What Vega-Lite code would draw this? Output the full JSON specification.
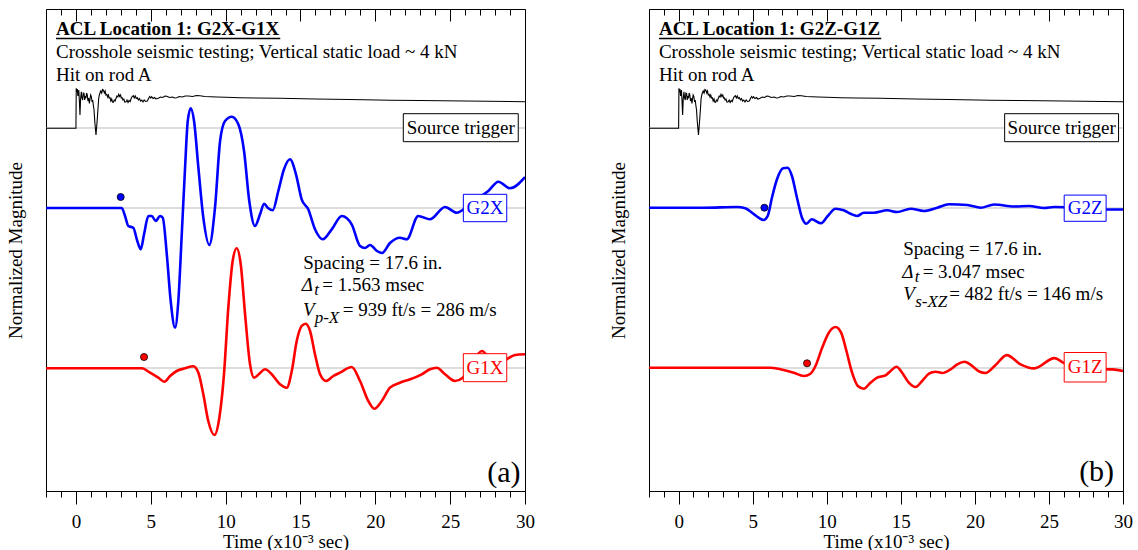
{
"$schema": "https://vega.github.io/schema/vega-lite/v6.json",
"padding": {"left": 5, "top": 8, "right": 5, "bottom": 0},
"config": {
  "view": {"stroke": "black", "strokeWidth": 1},
  "font": "Liberation Serif",
  "axis": {"labelFont": "Liberation Serif", "titleFont": "Liberation Serif", "labelFontSize": 19, "titleFontSize": 19, "titleFontWeight": "normal", "labelColor": "black", "titleColor": "black", "grid": false, "domainColor": "black", "tickColor": "black"},
  "text": {"font": "Liberation Serif", "fontSize": 19, "color": "black"}
},
"datasets": {
  "base": [{"v": 36.3}, {"v": 28.3}, {"v": 12.3}],
  "trig": [
    {"t":-2,"v":36.27},{"t":0,"v":36.27},{"t":0.02,"v":40.27},{"t":0.06,"v":39.9},{"t":0.09,"v":40.2},{"t":0.13,"v":39.5},{"t":0.16,"v":39.8},{"t":0.19,"v":40.1},{"t":0.23,"v":39.0},{"t":0.27,"v":37.6},{"t":0.31,"v":39.2},{"t":0.36,"v":39.93},{"t":0.4,"v":39.3},{"t":0.45,"v":39.1},{"t":0.49,"v":39.8},{"t":0.54,"v":39.77},{"t":0.58,"v":39.1},{"t":0.62,"v":39.5},{"t":0.67,"v":39.27},{"t":0.71,"v":39.8},{"t":0.76,"v":39.6},{"t":0.8,"v":39.0},{"t":0.85,"v":39.3},{"t":0.9,"v":38.77},{"t":0.94,"v":39.2},{"t":0.98,"v":39.6},{"t":1.03,"v":39.43},{"t":1.08,"v":38.9},{"t":1.12,"v":39.1},{"t":1.16,"v":38.6},{"t":1.21,"v":38.1},{"t":1.26,"v":36.93},{"t":1.34,"v":35.6},{"t":1.43,"v":37.27},{"t":1.52,"v":39.27},{"t":1.58,"v":39.7},{"t":1.66,"v":40.0},{"t":1.72,"v":39.8},{"t":1.78,"v":40.15},{"t":1.83,"v":40.1},{"t":1.9,"v":39.8},{"t":1.95,"v":40.0},{"t":2.0,"v":39.6},{"t":2.06,"v":39.67},{"t":2.12,"v":39.4},{"t":2.17,"v":39.6},{"t":2.22,"v":39.3},{"t":2.28,"v":39.33},{"t":2.33,"v":39.0},{"t":2.39,"v":39.2},{"t":2.44,"v":38.9},{"t":2.5,"v":38.87},{"t":2.56,"v":39.1},{"t":2.62,"v":39.0},{"t":2.68,"v":39.27},{"t":2.74,"v":39.5},{"t":2.8,"v":39.4},{"t":2.86,"v":39.67},{"t":2.92,"v":39.45},{"t":2.98,"v":39.6},{"t":3.03,"v":39.3},{"t":3.08,"v":39.33},{"t":3.14,"v":39.1},{"t":3.2,"v":39.2},{"t":3.26,"v":38.9},{"t":3.35,"v":38.93},{"t":3.41,"v":39.1},{"t":3.48,"v":38.85},{"t":3.55,"v":39.05},{"t":3.62,"v":38.93},{"t":3.7,"v":39.3},{"t":3.76,"v":39.45},{"t":3.83,"v":39.53},{"t":3.9,"v":39.3},{"t":3.96,"v":39.5},{"t":4.03,"v":39.25},{"t":4.1,"v":39.33},{"t":4.17,"v":39.1},{"t":4.24,"v":39.25},{"t":4.32,"v":39.0},{"t":4.4,"v":39.1},{"t":4.48,"v":38.9},{"t":4.56,"v":39.1},{"t":4.65,"v":38.95},{"t":4.77,"v":39.0},{"t":4.85,"v":39.25},{"t":4.93,"v":39.45},{"t":5.0,"v":39.3},{"t":5.06,"v":39.43},{"t":5.15,"v":39.25},{"t":5.25,"v":39.35},{"t":5.35,"v":39.2},{"t":5.5,"v":39.27},{"t":5.65,"v":39.4},{"t":5.8,"v":39.35},{"t":5.95,"v":39.5},{"t":6.07,"v":39.47},{"t":6.25,"v":39.35},{"t":6.45,"v":39.4},{"t":6.6,"v":39.3},{"t":6.73,"v":39.33},{"t":6.9,"v":39.45},{"t":7.1,"v":39.4},{"t":7.3,"v":39.5},{"t":7.51,"v":39.5},{"t":7.8,"v":39.45},{"t":8.05,"v":39.55},{"t":8.29,"v":39.53},{"t":8.6,"v":39.45},{"t":9.0,"v":39.42},{"t":9.41,"v":39.4},{"t":10.0,"v":39.38},{"t":10.96,"v":39.33},{"t":12.0,"v":39.3},{"t":13.63,"v":39.27},{"t":16.0,"v":39.2},{"t":18.31,"v":39.15},{"t":21.0,"v":39.08},{"t":22.99,"v":39.05},{"t":26.0,"v":39.0},{"t":30.0,"v":38.93}
  ],
  "a": [
    {"s":"G2X","t":-2,"v":28.3},{"s":"G2X","t":3.06,"v":28.3},{"s":"G2X","t":3.28,"v":27.5},{"s":"G2X","t":3.5,"v":26.5},{"s":"G2X","t":3.83,"v":26.33},{"s":"G2X","t":4.1,"v":25.0},{"s":"G2X","t":4.33,"v":24.17},{"s":"G2X","t":4.55,"v":25.67},{"s":"G2X","t":4.84,"v":27.5},{"s":"G2X","t":5.06,"v":27.5},{"s":"G2X","t":5.33,"v":27.0},{"s":"G2X","t":5.62,"v":27.5},{"s":"G2X","t":5.8,"v":27.33},{"s":"G2X","t":6.07,"v":23.67},{"s":"G2X","t":6.33,"v":19.0},{"s":"G2X","t":6.62,"v":16.33},{"s":"G2X","t":6.84,"v":19.0},{"s":"G2X","t":7.07,"v":25.67},{"s":"G2X","t":7.29,"v":32.33},{"s":"G2X","t":7.47,"v":37.0},{"s":"G2X","t":7.67,"v":38.27},{"s":"G2X","t":7.89,"v":37.0},{"s":"G2X","t":8.18,"v":32.33},{"s":"G2X","t":8.51,"v":27.33},{"s":"G2X","t":8.91,"v":24.6},{"s":"G2X","t":9.29,"v":28.33},{"s":"G2X","t":9.63,"v":35.0},{"s":"G2X","t":9.96,"v":37.0},{"s":"G2X","t":10.41,"v":37.43},{"s":"G2X","t":10.85,"v":36.67},{"s":"G2X","t":11.23,"v":34.0},{"s":"G2X","t":11.58,"v":29.0},{"s":"G2X","t":11.96,"v":26.5},{"s":"G2X","t":12.3,"v":27.67},{"s":"G2X","t":12.57,"v":28.73},{"s":"G2X","t":12.85,"v":28.27},{"s":"G2X","t":13.15,"v":28.07},{"s":"G2X","t":13.52,"v":30.0},{"s":"G2X","t":13.9,"v":32.17},{"s":"G2X","t":14.3,"v":33.17},{"s":"G2X","t":14.7,"v":31.67},{"s":"G2X","t":15.08,"v":29.17},{"s":"G2X","t":15.52,"v":28.17},{"s":"G2X","t":15.97,"v":26.17},{"s":"G2X","t":16.49,"v":25.17},{"s":"G2X","t":17.09,"v":26.17},{"s":"G2X","t":17.76,"v":27.5},{"s":"G2X","t":18.42,"v":26.67},{"s":"G2X","t":18.98,"v":24.5},{"s":"G2X","t":19.31,"v":24.3},{"s":"G2X","t":19.65,"v":24.6},{"s":"G2X","t":20.11,"v":24.0},{"s":"G2X","t":20.45,"v":23.8},{"s":"G2X","t":20.98,"v":24.8},{"s":"G2X","t":21.64,"v":25.33},{"s":"G2X","t":22.1,"v":25.17},{"s":"G2X","t":22.87,"v":27.5},{"s":"G2X","t":23.65,"v":27.17},{"s":"G2X","t":24.66,"v":28.4},{"s":"G2X","t":25.44,"v":27.83},{"s":"G2X","t":26.53,"v":29.0},{"s":"G2X","t":27.55,"v":30.0},{"s":"G2X","t":28.22,"v":30.93},{"s":"G2X","t":29.0,"v":30.27},{"s":"G2X","t":30.0,"v":31.4},
    {"s":"G1X","t":-2,"v":12.27},{"s":"G1X","t":4.4,"v":12.27},{"s":"G1X","t":4.95,"v":11.83},{"s":"G1X","t":5.5,"v":11.33},{"s":"G1X","t":5.91,"v":10.93},{"s":"G1X","t":6.29,"v":11.5},{"s":"G1X","t":6.73,"v":12.0},{"s":"G1X","t":7.29,"v":12.27},{"s":"G1X","t":7.84,"v":12.47},{"s":"G1X","t":8.18,"v":11.83},{"s":"G1X","t":8.51,"v":9.67},{"s":"G1X","t":8.84,"v":7.0},{"s":"G1X","t":9.25,"v":5.6},{"s":"G1X","t":9.58,"v":7.33},{"s":"G1X","t":9.89,"v":11.67},{"s":"G1X","t":10.18,"v":18.33},{"s":"G1X","t":10.47,"v":23.0},{"s":"G1X","t":10.74,"v":24.27},{"s":"G1X","t":11.01,"v":22.67},{"s":"G1X","t":11.3,"v":17.67},{"s":"G1X","t":11.63,"v":12.67},{"s":"G1X","t":11.9,"v":11.33},{"s":"G1X","t":12.25,"v":11.73},{"s":"G1X","t":12.63,"v":12.17},{"s":"G1X","t":13.08,"v":11.67},{"s":"G1X","t":13.63,"v":10.67},{"s":"G1X","t":14.08,"v":10.33},{"s":"G1X","t":14.42,"v":12.0},{"s":"G1X","t":14.75,"v":15.0},{"s":"G1X","t":15.08,"v":16.5},{"s":"G1X","t":15.35,"v":16.73},{"s":"G1X","t":15.64,"v":16.0},{"s":"G1X","t":15.97,"v":13.67},{"s":"G1X","t":16.31,"v":11.67},{"s":"G1X","t":16.71,"v":11.0},{"s":"G1X","t":17.19,"v":11.5},{"s":"G1X","t":17.64,"v":11.83},{"s":"G1X","t":18.42,"v":12.4},{"s":"G1X","t":18.98,"v":11.0},{"s":"G1X","t":19.53,"v":9.0},{"s":"G1X","t":19.93,"v":8.23},{"s":"G1X","t":20.43,"v":9.0},{"s":"G1X","t":20.98,"v":10.33},{"s":"G1X","t":21.64,"v":10.83},{"s":"G1X","t":22.32,"v":11.17},{"s":"G1X","t":23.1,"v":11.67},{"s":"G1X","t":23.65,"v":12.17},{"s":"G1X","t":24.1,"v":12.33},{"s":"G1X","t":24.66,"v":11.67},{"s":"G1X","t":25.32,"v":11.0},{"s":"G1X","t":25.84,"v":11.33},{"s":"G1X","t":26.33,"v":12.5},{"s":"G1X","t":27.13,"v":14.0},{"s":"G1X","t":28.0,"v":12.5},{"s":"G1X","t":28.78,"v":13.17},{"s":"G1X","t":29.33,"v":13.6},{"s":"G1X","t":30.0,"v":13.67}
  ],
  "b": [
    {"s":"G2Z","t":-2,"v":28.33},{"s":"G2Z","t":1.68,"v":28.33},{"s":"G2Z","t":3.94,"v":28.4},{"s":"G2Z","t":4.5,"v":28.27},{"s":"G2Z","t":4.95,"v":27.83},{"s":"G2Z","t":5.4,"v":27.33},{"s":"G2Z","t":5.74,"v":27.1},{"s":"G2Z","t":6.01,"v":27.5},{"s":"G2Z","t":6.3,"v":29.33},{"s":"G2Z","t":6.64,"v":31.17},{"s":"G2Z","t":7.05,"v":32.27},{"s":"G2Z","t":7.36,"v":32.33},{"s":"G2Z","t":7.65,"v":31.5},{"s":"G2Z","t":7.99,"v":29.33},{"s":"G2Z","t":8.33,"v":27.33},{"s":"G2Z","t":8.63,"v":26.73},{"s":"G2Z","t":8.98,"v":27.17},{"s":"G2Z","t":9.62,"v":26.77},{"s":"G2Z","t":10.07,"v":27.5},{"s":"G2Z","t":10.59,"v":28.23},{"s":"G2Z","t":11.15,"v":28.07},{"s":"G2Z","t":11.6,"v":27.73},{"s":"G2Z","t":12.05,"v":27.5},{"s":"G2Z","t":12.5,"v":27.83},{"s":"G2Z","t":13.18,"v":27.83},{"s":"G2Z","t":14.08,"v":28.07},{"s":"G2Z","t":14.75,"v":27.9},{"s":"G2Z","t":15.66,"v":28.23},{"s":"G2Z","t":16.56,"v":28.0},{"s":"G2Z","t":17.46,"v":28.33},{"s":"G2Z","t":18.25,"v":28.67},{"s":"G2Z","t":19.49,"v":28.6},{"s":"G2Z","t":20.39,"v":28.33},{"s":"G2Z","t":21.3,"v":28.65},{"s":"G2Z","t":22.65,"v":28.45},{"s":"G2Z","t":23.66,"v":28.5},{"s":"G2Z","t":24.67,"v":28.3},{"s":"G2Z","t":25.35,"v":28.4},{"s":"G2Z","t":29.07,"v":28.15},{"s":"G2Z","t":30.0,"v":28.15},
    {"s":"G1Z","t":-2,"v":12.33},{"s":"G1Z","t":6.19,"v":12.33},{"s":"G1Z","t":6.87,"v":12.17},{"s":"G1Z","t":7.77,"v":11.83},{"s":"G1Z","t":8.45,"v":11.5},{"s":"G1Z","t":8.9,"v":11.73},{"s":"G1Z","t":9.24,"v":12.5},{"s":"G1Z","t":9.69,"v":14.33},{"s":"G1Z","t":10.14,"v":15.83},{"s":"G1Z","t":10.59,"v":16.4},{"s":"G1Z","t":10.97,"v":15.83},{"s":"G1Z","t":11.33,"v":14.0},{"s":"G1Z","t":11.71,"v":11.83},{"s":"G1Z","t":12.1,"v":10.5},{"s":"G1Z","t":12.5,"v":10.23},{"s":"G1Z","t":12.95,"v":10.83},{"s":"G1Z","t":13.4,"v":11.33},{"s":"G1Z","t":13.97,"v":11.57},{"s":"G1Z","t":14.31,"v":12.0},{"s":"G1Z","t":14.71,"v":12.43},{"s":"G1Z","t":15.09,"v":11.83},{"s":"G1Z","t":15.54,"v":10.83},{"s":"G1Z","t":16.0,"v":10.4},{"s":"G1Z","t":16.44,"v":11.0},{"s":"G1Z","t":16.9,"v":11.73},{"s":"G1Z","t":17.35,"v":11.93},{"s":"G1Z","t":17.8,"v":11.8},{"s":"G1Z","t":18.36,"v":12.17},{"s":"G1Z","t":18.81,"v":12.67},{"s":"G1Z","t":19.31,"v":12.93},{"s":"G1Z","t":19.82,"v":12.5},{"s":"G1Z","t":20.3,"v":11.95},{"s":"G1Z","t":20.7,"v":11.8},{"s":"G1Z","t":21.4,"v":12.6},{"s":"G1Z","t":22.15,"v":13.59},{"s":"G1Z","t":23.08,"v":12.67},{"s":"G1Z","t":24.0,"v":12.26},{"s":"G1Z","t":25.38,"v":13.29},{"s":"G1Z","t":25.96,"v":12.84},{"s":"G1Z","t":27.38,"v":12.2},{"s":"G1Z","t":29.3,"v":12.16},{"s":"G1Z","t":30.0,"v":12.0}
  ],
  "dots_a": [{"s":"G2X","t":2.99,"v":29.4},{"s":"G1X","t":4.55,"v":13.4}],
  "dots_b": [{"s":"G2Z","t":5.79,"v":28.33},{"s":"G1Z","t":8.67,"v":12.77}]
},
"spacing": 73,
"hconcat": [
  {
    "width": 479, "height": 482,
    "resolve": {"axis": {"x": "independent", "y": "independent"}},
    "layer": [
      {"data": {"name": "base"}, "mark": {"type": "rule", "color": "#bbbbbb", "strokeWidth": 1},
       "encoding": {"y": {"field": "v", "type": "quantitative", "scale": {"domain": [0, 48.2], "nice": false, "zero": false}, "axis": {"title": "Normalized Magnitude", "orient": "left", "labels": false, "ticks": false, "domain": false, "grid": false, "titlePadding": 21}}}},
      {"data": {"name": "trig"}, "mark": {"type": "line", "color": "black", "strokeWidth": 1.1, "clip": true},
       "encoding": {"x": {"field": "t", "type": "quantitative", "scale": {"domain": [-2, 30], "nice": false, "zero": false},
          "axis": {"orient": "bottom", "values": [-2,-1,0,1,2,3,4,5,6,7,8,9,10,11,12,13,14,15,16,17,18,19,20,21,22,23,24,25,26,27,28,29,30], "labelExpr": "datum.value % 5 === 0 ? datum.label : ''", "tickSize": {"condition": {"test": "datum.value % 5 === 0", "value": 13}, "value": 6}, "labelPadding": 8, "title": "Time (x10⁻³ sec)", "titlePadding": 1, "labelOverlap": false, "labelFlush": false, "labelBound": false}},
         "y": {"field": "v", "type": "quantitative", "axis": null}}},
      {"data": {"name": "a"}, "mark": {"type": "line", "strokeWidth": 2.6, "clip": true, "interpolate": "monotone"},
       "encoding": {"x": {"field": "t", "type": "quantitative",
          "axis": {"orient": "top", "values": [-2,-1,0,1,2,3,4,5,6,7,8,9,10,11,12,13,14,15,16,17,18,19,20,21,22,23,24,25,26,27,28,29,30], "labels": false, "domain": false, "title": null, "tickSize": {"condition": {"test": "datum.value % 5 === 0", "value": -12}, "value": -6}}},
         "y": {"field": "v", "type": "quantitative", "axis": null},
         "color": {"field": "s", "type": "nominal", "scale": {"domain": ["G2X","G1X","G2Z","G1Z"], "range": ["#0000ff","#ff0000","#0000ff","#ff0000"]}, "legend": null}}},
      {"data": {"name": "dots_a"}, "mark": {"type": "point", "filled": true, "size": 50, "stroke": "black", "strokeWidth": 0.8, "opacity": 1},
       "encoding": {"x": {"field": "t", "type": "quantitative", "axis": null}, "y": {"field": "v", "type": "quantitative", "axis": null}, "color": {"field": "s", "type": "nominal", "legend": null}}},
      {"data": {"values": [{}]}, "mark": {"type": "rect", "fill": "white", "stroke": "black", "strokeWidth": 1},
       "encoding": {"x": {"datum": 21.87, "type": "quantitative", "axis": null}, "x2": {"datum": 29.55}, "y": {"datum": 37.73, "type": "quantitative", "axis": null}, "y2": {"datum": 34.93}}},
      {"data": {"values": [{}]}, "mark": {"type": "rect", "fill": "white", "stroke": "#0000ff", "strokeWidth": 1},
       "encoding": {"x": {"datum": 25.88, "type": "quantitative", "axis": null}, "x2": {"datum": 28.78}, "y": {"datum": 29.67, "type": "quantitative", "axis": null}, "y2": {"datum": 26.93}}},
      {"data": {"values": [{}]}, "mark": {"type": "rect", "fill": "white", "stroke": "#ff0000", "strokeWidth": 1},
       "encoding": {"x": {"datum": 25.88, "type": "quantitative", "axis": null}, "x2": {"datum": 28.78}, "y": {"datum": 13.73, "type": "quantitative", "axis": null}, "y2": {"datum": 10.93}}},
      {"data": {"values": [{}]}, "mark": {"type": "text", "align": "center", "baseline": "middle", "text": "Source trigger"},
       "encoding": {"x": {"datum": 25.71, "type": "quantitative", "axis": null}, "y": {"datum": 36.33, "type": "quantitative", "axis": null}}},
      {"data": {"values": [{}]}, "mark": {"type": "text", "align": "center", "baseline": "middle", "text": "G2X", "color": "#0000ff"},
       "encoding": {"x": {"datum": 27.33, "type": "quantitative", "axis": null}, "y": {"datum": 28.3, "type": "quantitative", "axis": null}}},
      {"data": {"values": [{}]}, "mark": {"type": "text", "align": "center", "baseline": "middle", "text": "G1X", "color": "#ff0000"},
       "encoding": {"x": {"datum": 27.33, "type": "quantitative", "axis": null}, "y": {"datum": 12.33, "type": "quantitative", "axis": null}}},
      {"data": {"values": [{}]}, "mark": {"type": "text", "align": "left", "baseline": "alphabetic", "fontWeight": "bold", "text": "ACL Location 1: G2X-G1X"},
       "encoding": {"x": {"datum": -1.33, "type": "quantitative", "axis": null}, "y": {"datum": 45.6, "type": "quantitative", "axis": null}}},
      {"data": {"values": [{}]}, "mark": {"type": "rule", "color": "black", "strokeWidth": 1.3},
       "encoding": {"x": {"datum": -1.33, "type": "quantitative", "axis": null}, "x2": {"datum": 13.65}, "y": {"datum": 45.25, "type": "quantitative", "axis": null}}},
      {"data": {"values": [{}]}, "mark": {"type": "text", "align": "left", "baseline": "alphabetic", "lineHeight": 23, "text": ["Crosshole seismic testing; Vertical static load ~ 4 kN", "Hit on rod A"]},
       "encoding": {"x": {"datum": -1.33, "type": "quantitative", "axis": null}, "y": {"datum": 43.3, "type": "quantitative", "axis": null}}},
      {"data": {"values": [{}]}, "mark": {"type": "text", "align": "left", "baseline": "alphabetic", "dx": 1.6, "text": "Spacing = 17.6 in."},
       "encoding": {"x": {"datum": 15.08, "type": "quantitative", "axis": null}, "y": {"datum": 22.2, "type": "quantitative", "axis": null}}},
      {"data": {"values": [{}]}, "mark": {"type": "text", "align": "left", "baseline": "alphabetic", "fontStyle": "italic", "text": "Δ"},
       "encoding": {"x": {"datum": 15.08, "type": "quantitative", "axis": null}, "y": {"datum": 20.0, "type": "quantitative", "axis": null}}},
      {"data": {"values": [{}]}, "mark": {"type": "text", "align": "left", "baseline": "alphabetic", "fontStyle": "italic", "fontSize": 17, "dx": 12.5, "dy": 4, "text": "t"},
       "encoding": {"x": {"datum": 15.08, "type": "quantitative", "axis": null}, "y": {"datum": 20.0, "type": "quantitative", "axis": null}}},
      {"data": {"values": [{}]}, "mark": {"type": "text", "align": "left", "baseline": "alphabetic", "dx": 20.5, "text": "= 1.563 msec"},
       "encoding": {"x": {"datum": 15.08, "type": "quantitative", "axis": null}, "y": {"datum": 20.0, "type": "quantitative", "axis": null}}},
      {"data": {"values": [{}]}, "mark": {"type": "text", "align": "left", "baseline": "alphabetic", "fontStyle": "italic", "dx": 1.3, "text": "V"},
       "encoding": {"x": {"datum": 15.08, "type": "quantitative", "axis": null}, "y": {"datum": 17.5, "type": "quantitative", "axis": null}}},
      {"data": {"values": [{}]}, "mark": {"type": "text", "align": "left", "baseline": "alphabetic", "fontStyle": "italic", "fontSize": 17, "dx": 13, "dy": 7, "text": "p-X"},
       "encoding": {"x": {"datum": 15.08, "type": "quantitative", "axis": null}, "y": {"datum": 17.5, "type": "quantitative", "axis": null}}},
      {"data": {"values": [{}]}, "mark": {"type": "text", "align": "left", "baseline": "alphabetic", "dx": 41, "text": "= 939 ft/s = 286 m/s"},
       "encoding": {"x": {"datum": 15.08, "type": "quantitative", "axis": null}, "y": {"datum": 17.5, "type": "quantitative", "axis": null}}},
      {"data": {"values": [{}]}, "mark": {"type": "text", "align": "right", "baseline": "alphabetic", "fontSize": 30, "text": "(a)"},
       "encoding": {"x": {"datum": 29.7, "type": "quantitative", "axis": null}, "y": {"datum": 0.9, "type": "quantitative", "axis": null}}}
    ]
  },
  {
    "width": 474, "height": 482,
    "resolve": {"axis": {"x": "independent", "y": "independent"}},
    "layer": [
      {"data": {"name": "base"}, "mark": {"type": "rule", "color": "#bbbbbb", "strokeWidth": 1},
       "encoding": {"y": {"field": "v", "type": "quantitative", "scale": {"domain": [0, 48.2], "nice": false, "zero": false}, "axis": {"title": "Normalized Magnitude", "orient": "left", "labels": false, "ticks": false, "domain": false, "grid": false, "titlePadding": 21}}}},
      {"data": {"name": "trig"}, "mark": {"type": "line", "color": "black", "strokeWidth": 1.1, "clip": true},
       "encoding": {"x": {"field": "t", "type": "quantitative", "scale": {"domain": [-2, 30], "nice": false, "zero": false},
          "axis": {"orient": "bottom", "values": [-2,-1,0,1,2,3,4,5,6,7,8,9,10,11,12,13,14,15,16,17,18,19,20,21,22,23,24,25,26,27,28,29,30], "labelExpr": "datum.value % 5 === 0 ? datum.label : ''", "tickSize": {"condition": {"test": "datum.value % 5 === 0", "value": 13}, "value": 6}, "labelPadding": 8, "title": "Time (x10⁻³ sec)", "titlePadding": 1, "labelOverlap": false, "labelFlush": false, "labelBound": false}},
         "y": {"field": "v", "type": "quantitative", "axis": null}}},
      {"data": {"name": "b"}, "mark": {"type": "line", "strokeWidth": 2.6, "clip": true, "interpolate": "monotone"},
       "encoding": {"x": {"field": "t", "type": "quantitative",
          "axis": {"orient": "top", "values": [-2,-1,0,1,2,3,4,5,6,7,8,9,10,11,12,13,14,15,16,17,18,19,20,21,22,23,24,25,26,27,28,29,30], "labels": false, "domain": false, "title": null, "tickSize": {"condition": {"test": "datum.value % 5 === 0", "value": -12}, "value": -6}}},
         "y": {"field": "v", "type": "quantitative", "axis": null},
         "color": {"field": "s", "type": "nominal", "scale": {"domain": ["G2X","G1X","G2Z","G1Z"], "range": ["#0000ff","#ff0000","#0000ff","#ff0000"]}, "legend": null}}},
      {"data": {"name": "dots_b"}, "mark": {"type": "point", "filled": true, "size": 50, "stroke": "black", "strokeWidth": 0.8, "opacity": 1},
       "encoding": {"x": {"field": "t", "type": "quantitative", "axis": null}, "y": {"field": "v", "type": "quantitative", "axis": null}, "color": {"field": "s", "type": "nominal", "legend": null}}},
      {"data": {"values": [{}]}, "mark": {"type": "rect", "fill": "white", "stroke": "black", "strokeWidth": 1},
       "encoding": {"x": {"datum": 22.01, "type": "quantitative", "axis": null}, "x2": {"datum": 29.7}, "y": {"datum": 37.73, "type": "quantitative", "axis": null}, "y2": {"datum": 34.93}}},
      {"data": {"values": [{}]}, "mark": {"type": "rect", "fill": "white", "stroke": "#0000ff", "strokeWidth": 1},
       "encoding": {"x": {"datum": 26.03, "type": "quantitative", "axis": null}, "x2": {"datum": 28.86}, "y": {"datum": 29.59, "type": "quantitative", "axis": null}, "y2": {"datum": 26.97}}},
      {"data": {"values": [{}]}, "mark": {"type": "rect", "fill": "white", "stroke": "#ff0000", "strokeWidth": 1},
       "encoding": {"x": {"datum": 26.03, "type": "quantitative", "axis": null}, "x2": {"datum": 28.86}, "y": {"datum": 13.85, "type": "quantitative", "axis": null}, "y2": {"datum": 10.9}}},
      {"data": {"values": [{}]}, "mark": {"type": "text", "align": "center", "baseline": "middle", "text": "Source trigger"},
       "encoding": {"x": {"datum": 25.86, "type": "quantitative", "axis": null}, "y": {"datum": 36.33, "type": "quantitative", "axis": null}}},
      {"data": {"values": [{}]}, "mark": {"type": "text", "align": "center", "baseline": "middle", "text": "G2Z", "color": "#0000ff"},
       "encoding": {"x": {"datum": 27.45, "type": "quantitative", "axis": null}, "y": {"datum": 28.28, "type": "quantitative", "axis": null}}},
      {"data": {"values": [{}]}, "mark": {"type": "text", "align": "center", "baseline": "middle", "text": "G1Z", "color": "#ff0000"},
       "encoding": {"x": {"datum": 27.45, "type": "quantitative", "axis": null}, "y": {"datum": 12.38, "type": "quantitative", "axis": null}}},
      {"data": {"values": [{}]}, "mark": {"type": "text", "align": "left", "baseline": "alphabetic", "fontWeight": "bold", "text": "ACL Location 1: G2Z-G1Z"},
       "encoding": {"x": {"datum": -1.33, "type": "quantitative", "axis": null}, "y": {"datum": 45.6, "type": "quantitative", "axis": null}}},
      {"data": {"values": [{}]}, "mark": {"type": "rule", "color": "black", "strokeWidth": 1.3},
       "encoding": {"x": {"datum": -1.33, "type": "quantitative", "axis": null}, "x2": {"datum": 13.68}, "y": {"datum": 45.25, "type": "quantitative", "axis": null}}},
      {"data": {"values": [{}]}, "mark": {"type": "text", "align": "left", "baseline": "alphabetic", "lineHeight": 23, "text": ["Crosshole seismic testing; Vertical static load ~ 4 kN", "Hit on rod A"]},
       "encoding": {"x": {"datum": -1.33, "type": "quantitative", "axis": null}, "y": {"datum": 43.3, "type": "quantitative", "axis": null}}},
      {"data": {"values": [{}]}, "mark": {"type": "text", "align": "left", "baseline": "alphabetic", "dx": 1, "text": "Spacing = 17.6 in."},
       "encoding": {"x": {"datum": 15.09, "type": "quantitative", "axis": null}, "y": {"datum": 23.6, "type": "quantitative", "axis": null}}},
      {"data": {"values": [{}]}, "mark": {"type": "text", "align": "left", "baseline": "alphabetic", "fontStyle": "italic", "text": "Δ"},
       "encoding": {"x": {"datum": 15.09, "type": "quantitative", "axis": null}, "y": {"datum": 21.35, "type": "quantitative", "axis": null}}},
      {"data": {"values": [{}]}, "mark": {"type": "text", "align": "left", "baseline": "alphabetic", "fontStyle": "italic", "fontSize": 17, "dx": 12.5, "dy": 4, "text": "t"},
       "encoding": {"x": {"datum": 15.09, "type": "quantitative", "axis": null}, "y": {"datum": 21.35, "type": "quantitative", "axis": null}}},
      {"data": {"values": [{}]}, "mark": {"type": "text", "align": "left", "baseline": "alphabetic", "dx": 20.5, "text": "= 3.047 msec"},
       "encoding": {"x": {"datum": 15.09, "type": "quantitative", "axis": null}, "y": {"datum": 21.35, "type": "quantitative", "axis": null}}},
      {"data": {"values": [{}]}, "mark": {"type": "text", "align": "left", "baseline": "alphabetic", "fontStyle": "italic", "dx": 1, "text": "V"},
       "encoding": {"x": {"datum": 15.09, "type": "quantitative", "axis": null}, "y": {"datum": 19.1, "type": "quantitative", "axis": null}}},
      {"data": {"values": [{}]}, "mark": {"type": "text", "align": "left", "baseline": "alphabetic", "fontStyle": "italic", "fontSize": 17, "dx": 13, "dy": 7, "text": "s-XZ"},
       "encoding": {"x": {"datum": 15.09, "type": "quantitative", "axis": null}, "y": {"datum": 19.1, "type": "quantitative", "axis": null}}},
      {"data": {"values": [{}]}, "mark": {"type": "text", "align": "left", "baseline": "alphabetic", "dx": 47, "text": "= 482 ft/s = 146 m/s"},
       "encoding": {"x": {"datum": 15.09, "type": "quantitative", "axis": null}, "y": {"datum": 19.1, "type": "quantitative", "axis": null}}},
      {"data": {"values": [{}]}, "mark": {"type": "text", "align": "right", "baseline": "alphabetic", "fontSize": 30, "text": "(b)"},
       "encoding": {"x": {"datum": 29.4, "type": "quantitative", "axis": null}, "y": {"datum": 1.0, "type": "quantitative", "axis": null}}}
    ]
  }
]
}
